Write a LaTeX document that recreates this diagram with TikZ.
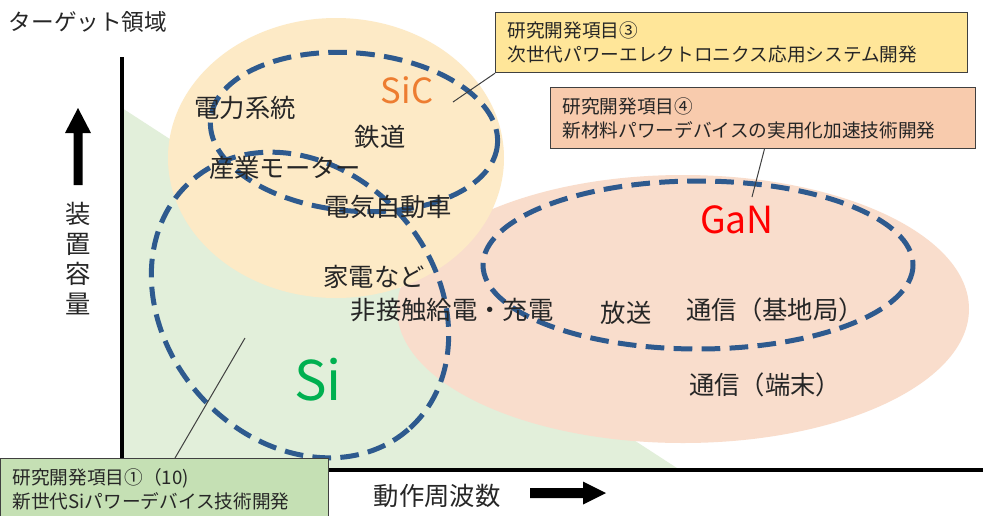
\documentclass[tikz,border=0pt]{standalone}
\usepackage{fontspec}
\setmainfont{Noto Sans CJK JP}
\definecolor{txt}{HTML}{262626}
\definecolor{gfill}{HTML}{E2EFDA}
\definecolor{yfill}{HTML}{FDEAC6}
\definecolor{pfill}{HTML}{F9DDCC}
\definecolor{dblue}{HTML}{2E5A8E}
\definecolor{bord}{HTML}{404040}
\definecolor{cthree}{HTML}{FFE699}
\definecolor{cfour}{HTML}{F8CBAD}
\definecolor{cone}{HTML}{C5E0B4}
\definecolor{sicc}{HTML}{ED7D31}
\definecolor{ganc}{HTML}{FF0000}
\definecolor{sic}{HTML}{00B050}
\begin{document}
\begin{tikzpicture}[x=0.75pt,y=-0.75pt,
  lbl/.style={font=\fontsize{19}{23}\selectfont, text=txt, inner sep=0pt},
  dashring/.style={draw=dblue, line width=3.75pt, dash pattern=on 14pt off 7pt},
  callout/.style={draw=bord, line width=0.9pt, inner xsep=9pt, inner ysep=0pt, align=left,
    font=\fontsize{14}{18}\selectfont, text=txt, anchor=north west},
  leader/.style={draw=bord, line width=0.75pt},
  axis/.style={line width=3.5pt, black}]
\useasboundingbox (0,0) rectangle (983,515);
\fill[white] (0,0) rectangle (983,515);
% regions
\fill[gfill] (122,108) -- (122,470) -- (680,470) -- cycle;
\fill[pfill] (683,309) ellipse [x radius=286, y radius=134];
\fill[yfill] (336,158) ellipse [x radius=168, y radius=140];
% dashed rings
\draw[dashring, rotate around={-5:(354,132)}] (354,132) ellipse [x radius=144, y radius=79];
\draw[dashring, rotate around={-49:(300,305)}] (300,305) ellipse [x radius=165, y radius=135];
\draw[dashring] (698,265) ellipse [x radius=215, y radius=84];
% axes
\draw[axis] (122,57) -- (122,472);
\draw[axis] (120,470) -- (983,470);
% arrows
\fill[black] (78,108) -- (91,133) -- (82.5,133) -- (82.5,185) -- (73.5,185) -- (73.5,133) -- (65,133) -- cycle;
\fill[black] (606,493) -- (583,481.5) -- (583,488) -- (530,488) -- (530,498) -- (583,498) -- (583,504.5) -- cycle;
% axis labels
\node[font=\fontsize{17}{20}\selectfont, text=txt, inner sep=0pt] (title) at (88,22) {ターゲット領域};
\node[font=\fontsize{19}{22.5}\selectfont, text=txt, align=center, inner sep=0pt] (ylab) at (78,259) {装\\置\\容\\量};
\node[lbl] (xlab) at (437,496) {動作周波数};
% labels
\node[lbl] (t1) at (245,108) {電力系統};
\node[font=\fontsize{26}{30}\selectfont, text=sicc, inner sep=0pt] (sic) at (407,90) {SiC};
\node[lbl] (t2) at (380,137) {鉄道};
\node[lbl] (t3) at (285,168) {産業モーター};
\node[lbl] (t4) at (388,207) {電気自動車};
\node[lbl] (t5) at (374,277) {家電など};
\node[lbl] (t6) at (452,310) {非接触給電・充電};
\node[lbl] (t7) at (626,313) {放送};
\node[lbl] (t8) at (775,310) {通信（基地局）};
\node[lbl] (t9) at (765,385) {通信（端末）};
\node[font=\fontsize{28}{32}\selectfont, text=ganc, inner sep=0pt] (gan) at (737,220) {GaN};
\node[font=\fontsize{41}{45}\selectfont, text=sic, inner sep=0pt] (si) at (318,380) {Si};
% callouts
\node[callout, fill=cthree, text width=336pt, minimum height=45pt] (box3) at (495,12)
  {研究開発項目③\\次世代パワーエレクトロニクス応用システム開発};
\node[callout, fill=cfour, text width=300.75pt, minimum height=45.75pt] (box4) at (550,87)
  {研究開発項目④\\新材料パワーデバイスの実用化加速技術開発};
\node[callout, fill=cone, text width=228pt, minimum height=46.5pt] (box1) at (0,458)
  {研究開発項目①（10)\\新世代Siパワーデバイス技術開発};
% leaders
\coordinate (l3) at (453,102);
\coordinate (l4) at (752,197);
\coordinate (l1) at (245,338);
\draw[leader] (box3.south west) -- (l3);
\draw[leader] ([xshift=1pt]box4.south) -- (l4);
\draw[leader] ([xshift=131.25pt]box1.north west) -- (l1);
\end{tikzpicture}
\end{document}
